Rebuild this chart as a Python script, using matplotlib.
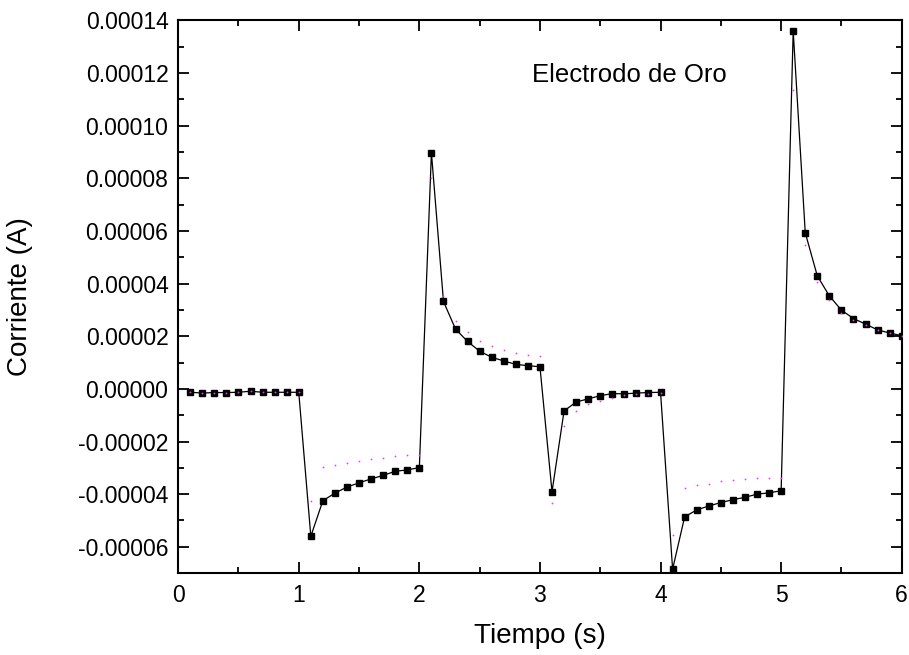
import numpy as np
import matplotlib
matplotlib.use("Agg")
import matplotlib.pyplot as plt
from matplotlib.ticker import MultipleLocator, FormatStrFormatter

plt.rcParams['font.family'] = ['Liberation Sans', 'DejaVu Sans']

# tiempo (s)
tiempo = np.round(np.arange(1, 61) * 0.1, 1)

# corriente medida (A), electrodo de oro
corriente = np.array([
    -1.3, -1.6, -1.4, -1.4, -1.3, -0.9, -1.3, -1.3, -1.3, -1.3,
    -56.0, -42.5, -39.6, -37.3, -35.7, -34.2, -32.9, -31.3, -30.8, -29.9,
    89.7, 33.2, 22.7, 18.0, 14.3, 12.0, 10.6, 9.3, 8.8, 8.4,
    -39.1, -8.4, -5.0, -3.8, -2.6, -1.8, -1.9, -1.6, -1.4, -1.3,
    -68.5, -48.6, -46.0, -44.5, -43.2, -42.1, -41.2, -40.0, -39.5, -38.7,
    136.0, 59.3, 42.9, 35.3, 29.9, 26.7, 24.6, 22.4, 21.2, 20.2,
]) * 1e-6

# curva ajustada (puntos magenta)
ajuste = np.array([
    -1.3, -1.5, -1.4, -1.4, -1.3, -1.0, -1.3, -1.3, -1.3, -1.3,
    -42.6, -29.6, -28.8, -28.0, -27.4, -26.7, -26.2, -25.6, -25.3, -25.2,
    80.1, 35.3, 25.8, 21.7, 18.3, 16.3, 14.8, 13.5, 12.7, 12.4,
    -43.3, -14.1, -8.3, -5.9, -4.7, -3.3, -2.5, -2.1, -1.8, -1.6,
    -55.5, -37.8, -36.6, -36.1, -35.0, -34.7, -34.4, -34.0, -34.0, -34.0,
    113.5, 54.6, 40.6, 33.8, 29.0, 26.3, 24.3, 22.3, 21.1, 20.1,
]) * 1e-6

fig = plt.figure(figsize=(9.09, 6.55), dpi=100)
ax = fig.add_axes([0.196, 0.125, 0.796, 0.844])

# data
ax.plot(tiempo, corriente, color="black", lw=0.9, marker="s", ms=4.5,
        mfc="black", mec="black", zorder=2)
ax.plot(tiempo, ajuste, ls="none", marker="o", ms=1.3, color="#ff33ff",
        mew=0, zorder=3)

ax.set_xlim(0, 6)
ax.set_ylim(-0.00007, 0.00014)
ax.xaxis.set_major_locator(MultipleLocator(1))
ax.xaxis.set_minor_locator(MultipleLocator(0.5))
ax.yaxis.set_major_locator(MultipleLocator(0.00002))
ax.yaxis.set_minor_locator(MultipleLocator(0.00001))
ax.yaxis.set_major_formatter(FormatStrFormatter('%.5f'))

ax.tick_params(which="both", direction="in", top=True, right=True, width=1.3,
               labelsize=16.5)
ax.tick_params(which="major", length=8)
ax.tick_params(which="minor", length=4)
ax.tick_params(axis="x", pad=8)
ax.tick_params(axis="y", pad=7)
for s in ax.spines.values():
    s.set_linewidth(1.5)

ax.set_xlabel("Tiempo (s)", fontsize=20)
ax.set_ylabel("Corriente (A)", fontsize=20)
ax.xaxis.set_label_coords(0.5, -0.09)
ax.yaxis.set_label_coords(-0.2, 0.5)

ax.text(0.489, 0.888, "Electrodo de Oro", transform=ax.transAxes,
        fontsize=18.5, va="baseline", ha="left")

fig.savefig("out.png", dpi=100)
